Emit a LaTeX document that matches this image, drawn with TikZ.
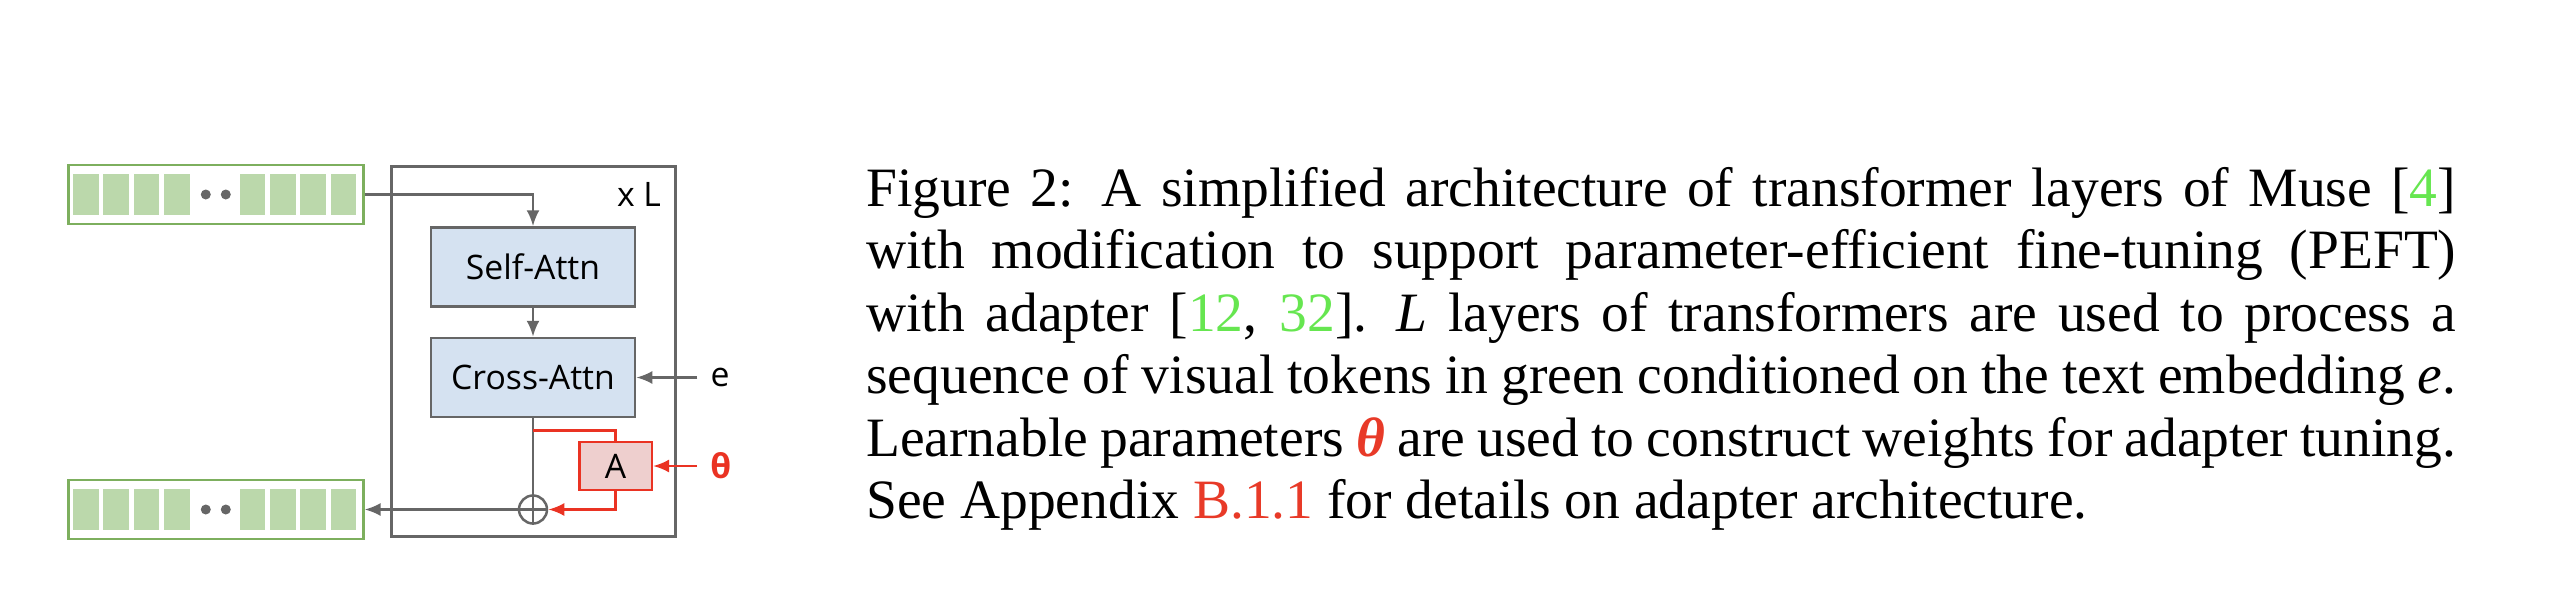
\documentclass[tikz,border=0pt]{standalone}
\usepackage{fontspec}
\setmainfont{Liberation Serif}
\newfontfamily\gsans{Open Sans}
\usetikzlibrary{arrows.meta,positioning}
\definecolor{lgray}{HTML}{666666}
\definecolor{attnblue}{HTML}{D5E2F1}
\definecolor{adred}{HTML}{EA3323}
\definecolor{adfill}{HTML}{EECFCE}
\definecolor{tokgreen}{HTML}{7DAF5E}
\definecolor{tokfill}{HTML}{BBD8AB}
\definecolor{citegreen}{HTML}{66E650}
\definecolor{refred}{HTML}{E83A28}
\newcommand\capspace{\spaceskip=0.25em plus 0.25em minus 0.1em\xspaceskip=0.4em plus 0.25em minus 0.1em\relax}

\begin{document}
\begin{tikzpicture}[>={Latex[length=1.6mm,width=1.3mm]},line width=0.25mm,node distance=2.9mm,
 blk/.style={draw=lgray,fill=attnblue,minimum width=20.4mm,minimum height=7.9mm,inner sep=0,font=\gsans\fontsize{9.6}{11}\selectfont},
 adp/.style={draw=adred,fill=adfill,minimum width=7.25mm,minimum height=4.8mm,inner sep=0,font=\gsans\fontsize{9.6}{11}\selectfont},
 bar/.style={draw=tokgreen,minimum width=29.5mm,minimum height=5.9mm,inner sep=0},
 lbl/.style={inner sep=1.2mm,font=\gsans\fontsize{9.6}{11}\selectfont},
 gline/.style={draw=lgray},
 rline/.style={draw=adred}]
\useasboundingbox (0,0) rectangle (256mm,-60.6mm);
\node[draw=lgray,line width=0.3mm,minimum width=28.4mm,minimum height=37mm] (lay) at (53.3mm,-35.1mm) {};
\node[lbl,inner sep=0] (xl) at (63.9mm,-19.4mm) {x L};
\node[blk] (sa) at (53.3mm,-26.7mm) {Self-Attn};
\node[blk,below=of sa] (ca) {Cross-Attn};
\node[circle,draw=lgray,minimum size=2.8mm,inner sep=0,below=7.6mm of ca] (add) {};
\draw[gline] (add.north)--(add.south) (add.west)--(add.east);
\node[adp] (ad) at (61.55mm,-46.6mm) {A};
\node[lbl,right=6.1mm of ca] (e) {e};
\node[lbl,right=4.4mm of ad,text=adred] (th) {\textbf{θ}};
\node[bar] (tin) at (21.58mm,-19.45mm) {};
\node[bar] (tout) at (tin |- add) {};
% visual tokens
\foreach \b in {tin,tout}{
 \foreach \p in {0,1,2,3,5.5,6.5,7.5,8.5}
  \fill[tokfill] ([xshift={0.6mm+\p*3.03mm},yshift=-2.03mm]\b.west) rectangle ++(2.57mm,4.07mm);
 \fill[lgray] ([xshift=-1mm]\b.center) circle (0.5mm) ([xshift=1mm]\b.center) circle (0.5mm);
}
\coordinate (br) at ([yshift=-1.2mm]ca.south);
\draw[gline,->] (tin.east) -| (sa.north);
\draw[gline,->] (sa) -- (ca);
\draw[gline] (ca.south) -- (add.north);
\draw[gline,->] (e) -- (ca);
\draw[gline,->] (add.west) -- (tout.east);
\draw[rline] (br) -| (ad.north);
\draw[rline,->] (ad.south) |- (add.east);
\draw[rline,->] (th) -- (ad);
% caption
\node[anchor=base west,inner sep=0,text width=159mm,align=justify,font=\fontsize{15.8}{17.8}\selectfont] (cap) at (86.5mm,-20.6mm)
 {\capspace\makebox[159mm][s]{Figure 2: A simplified architecture of transformer layers of Muse [\textcolor{citegreen}{4}]}\\
 \makebox[159mm][s]{with modification to support parameter-efficient fine-tuning (PEFT)}\\
 \makebox[159mm][s]{with adapter [\textcolor{citegreen}{12}, \textcolor{citegreen}{32}]. \textit{L} layers of transformers are used to process a}\\
 \makebox[159mm][s]{sequence of visual tokens in green conditioned on the text embedding \textit{e}.}\\
 \makebox[159mm][s]{Learnable parameters \textcolor{refred}{\textbf{\textit{θ}}} are used to construct weights for adapter tuning.}\\
 See Appendix \textcolor{refred}{B.1.1} for details on adapter architecture.};
\end{tikzpicture}
\end{document}
